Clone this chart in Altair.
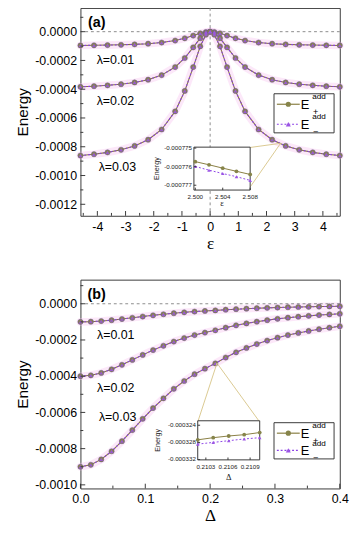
import altair as alt
import pandas as pd

# ---------------- panel (a): energy vs epsilon ----------------
eps = [-4.6, -4.12, -3.64, -3.16, -2.68, -2.2, -1.72, -1.24, -0.9, -0.6, -0.35, -0.15, 0.0,
       0.15, 0.35, 0.6, 0.9, 1.24, 1.72, 2.2, 2.68, 3.16, 3.64, 4.12, 4.6]
a_l01 = [-0.957e-4, -0.947e-4, -0.932e-4, -0.912e-4, -0.882e-4, -0.835e-4, -0.755e-4, -0.616e-4,
         -0.458e-4, -0.273e-4, -0.113e-4, -0.023e-4, 0.0,
         -0.023e-4, -0.113e-4, -0.273e-4, -0.458e-4, -0.616e-4, -0.755e-4, -0.835e-4,
         -0.882e-4, -0.912e-4, -0.932e-4, -0.947e-4, -0.957e-4]
a_l02 = [-3.83e-4, -3.79e-4, -3.73e-4, -3.65e-4, -3.53e-4, -3.34e-4, -3.02e-4, -2.46e-4,
         -1.83e-4, -1.09e-4, -0.45e-4, -0.09e-4, 0.0,
         -0.09e-4, -0.45e-4, -1.09e-4, -1.83e-4, -2.46e-4, -3.02e-4, -3.34e-4,
         -3.53e-4, -3.65e-4, -3.73e-4, -3.79e-4, -3.83e-4]
a_l03 = [-8.61e-4, -8.52e-4, -8.39e-4, -8.21e-4, -7.94e-4, -7.51e-4, -6.80e-4, -5.54e-4,
         -4.12e-4, -2.46e-4, -1.02e-4, -0.21e-4, 0.0,
         -0.21e-4, -1.02e-4, -2.46e-4, -4.12e-4, -5.54e-4, -6.80e-4, -7.51e-4,
         -7.94e-4, -8.21e-4, -8.39e-4, -8.52e-4, -8.61e-4]
a_labels = ["λ=0.01", "λ=0.02", "λ=0.03"]
a_label_x = [-3.36, -3.36, -3.29]
a_label_y = [-0.000196, -0.000482, -0.000939]
a_xticks = [-4, -3, -2, -1, 0, 1, 2, 3, 4]
a_xminor = [-4.5, -3.5, -2.5, -1.5, -0.5, 0.5, 1.5, 2.5, 3.5, 4.5]
a_yticks = [0.0, -0.0002, -0.0004, -0.0006, -0.0008, -0.0010, -0.0012]
a_yminor = [0.0001, -0.0001, -0.0003, -0.0005, -0.0007, -0.0009, -0.0011]
# inset (a)
ia_x = [2.500, 2.502, 2.504, 2.506, 2.508]
ia_ep = [-0.00077573, -0.00077590, -0.00077608, -0.00077625, -0.00077642]
ia_em = [-0.00077599, -0.00077619, -0.00077637, -0.00077654, -0.00077674]
ia_xticks = [2.500, 2.504, 2.508]
ia_xlabels = ["2.500", "2.504", "2.508"]
ia_yticks = [-0.000775, -0.000776, -0.000777]
ia_ylabels = ["-0.000775", "-0.000776", "-0.000777"]
a_conn_x0 = [2.5, 2.5]
a_conn_y0 = [-0.000776, -0.000776]
a_conn_x1 = [1.42, 1.42]
a_conn_y1 = [-0.000805, -0.001080]

# ---------------- panel (b): energy vs Delta ----------------
dlt = [0.0, 0.016, 0.032, 0.048, 0.064, 0.080, 0.096, 0.112, 0.128, 0.144, 0.160, 0.176, 0.192,
       0.208, 0.224, 0.240, 0.256, 0.272, 0.288, 0.304, 0.320, 0.336, 0.352, 0.368, 0.384, 0.400]
b_l01 = [-1.000e-4, -0.988e-4, -0.955e-4, -0.905e-4, -0.843e-4, -0.775e-4, -0.706e-4, -0.640e-4,
         -0.580e-4, -0.522e-4, -0.474e-4, -0.432e-4, -0.398e-4, -0.366e-4, -0.330e-4, -0.298e-4,
         -0.271e-4, -0.247e-4, -0.226e-4, -0.208e-4, -0.192e-4, -0.179e-4, -0.167e-4, -0.156e-4,
         -0.147e-4, -0.138e-4]
b_l02 = [-4.000e-4, -3.952e-4, -3.820e-4, -3.620e-4, -3.372e-4, -3.100e-4, -2.824e-4, -2.560e-4,
         -2.320e-4, -2.088e-4, -1.896e-4, -1.728e-4, -1.592e-4, -1.464e-4, -1.320e-4, -1.192e-4,
         -1.084e-4, -0.988e-4, -0.904e-4, -0.832e-4, -0.768e-4, -0.716e-4, -0.668e-4, -0.624e-4,
         -0.588e-4, -0.552e-4]
b_l03 = [-9.000e-4, -8.892e-4, -8.595e-4, -8.145e-4, -7.587e-4, -6.975e-4, -6.354e-4, -5.760e-4,
         -5.220e-4, -4.698e-4, -4.266e-4, -3.888e-4, -3.582e-4, -3.294e-4, -2.970e-4, -2.682e-4,
         -2.439e-4, -2.223e-4, -2.034e-4, -1.872e-4, -1.728e-4, -1.611e-4, -1.503e-4, -1.404e-4,
         -1.323e-4, -1.242e-4]
b_labels = ["λ=0.01", "λ=0.02", "λ=0.03"]
b_label_x = [0.0544, 0.0544, 0.0574]
b_label_y = [-0.000173, -0.000465, -0.000628]
b_xticks = [0.0, 0.1, 0.2, 0.3, 0.4]
b_xminor = [0.05, 0.15, 0.25, 0.35]
b_yticks = [0.0, -0.0002, -0.0004, -0.0006, -0.0008, -0.0010]
b_yminor = [0.0001, -0.0001, -0.0003, -0.0005, -0.0007, -0.0009]
# inset (b)
ib_x = [0.21019, 0.21040, 0.21061, 0.21082, 0.21103]
ib_ep = [-0.0003274, -0.0003269, -0.0003265, -0.0003262, -0.0003257]
ib_em = [-0.0003284, -0.0003280, -0.0003276, -0.0003272, -0.0003269]
ib_xticks = [0.2103, 0.2106, 0.2109]
ib_xlabels = ["0.2103", "0.2106", "0.2109"]
ib_yticks = [-0.000324, -0.000328, -0.000332]
ib_ylabels = ["-0.000324", "-0.000328", "-0.000332"]
b_conn_x0 = [0.2106, 0.2106]
b_conn_y0 = [-0.000328, -0.000328]
b_conn_x1 = [0.1809, 0.2765]
b_conn_y1 = [-0.000653, -0.000653]

# ---------------- styles ----------------
FONT = "Liberation Sans"
SERIF = "Liberation Serif"
OLIVE = "#857a3c"
OLIVE_FILL = "#86844a"
PURPLE = "#8a3fe6"
TRI = "#9b55e4"
HALO = "#f7c6f0"
CONN = "#d9c78e"
FRAME = "#333333"
ONE = pd.DataFrame({"a": [0]})


def fmt_expr(f):
    return "replace(format(datum.value, '" + f + "'), '\u2212', '-')"


def lin(field, d0, d1, r0, r1):
    # maps an inset-axis value onto the main axis (inset box placement)
    return "%r + (datum.%s - %r) / %r * %r" % (r0, field, d0, d1 - d0, r1 - r0)


def inset_layers(X, Y, W, H, mxd, myd, xdom, ydom, pxr, pyr, xvals, xlabs, yvals, ylabs, xtitle,
                 xs, ep, em, xl_off, xt_off, yt_off):
    bx0 = mxd[0] + pxr[0] / W * (mxd[1] - mxd[0])
    bx1 = mxd[0] + pxr[1] / W * (mxd[1] - mxd[0])
    by0 = myd[1] - pyr[0] / H * (myd[1] - myd[0])
    by1 = myd[1] - pyr[1] / H * (myd[1] - myd[0])
    fx = lambda f: lin(f, xdom[0], xdom[1], bx0, bx1)
    fy = lambda f: lin(f, ydom[0], ydom[1], by0, by1)
    bot, top, left = pyr[0], pyr[1], pxr[0]
    d = pd.DataFrame({"x": xs, "ep": ep, "em": em})
    base = alt.Chart(d).transform_calculate(mx=fx("x"), mep=fy("ep"), mem=fy("em"))
    L = []
    fr = pd.DataFrame({"x0": [bx0], "x1": [bx1], "y0": [by0], "y1": [by1]})
    L.append(alt.Chart(fr).mark_rect(fill="white", stroke=FRAME, strokeWidth=1).encode(
        x=X("x0"), x2="x1", y=Y("y0"), y2="y1"))
    L.append(base.mark_line(color=OLIVE, strokeWidth=1).encode(x=X("mx"), y=Y("mep")))
    L.append(base.mark_line(color=PURPLE, strokeWidth=1, strokeDash=[2, 2]).encode(x=X("mx"), y=Y("mem")))
    L.append(base.mark_point(shape="circle", filled=True, size=16, color=OLIVE_FILL, opacity=1).encode(
        x=X("mx"), y=Y("mep")))
    L.append(base.mark_point(shape="triangle-up", filled=True, size=14, color=TRI, opacity=1).encode(
        x=X("mx"), y=Y("mem")))
    xt = alt.Chart(pd.DataFrame({"v": xvals, "t": xlabs})).transform_calculate(m=fx("v"))
    yt = alt.Chart(pd.DataFrame({"v": yvals, "t": ylabs})).transform_calculate(m=fy("v"))
    L.append(xt.mark_rule(color=FRAME, strokeWidth=1).encode(
        x=X("m"), y=alt.value(bot), y2=alt.value(bot - 2.5)))
    L.append(yt.mark_rule(color=FRAME, strokeWidth=1).encode(
        y=Y("m"), x=alt.value(left), x2=alt.value(left + 2.5)))
    L.append(xt.mark_text(font=FONT, fontSize=6.5, color="#222", align="center",
                          baseline="middle").encode(x=X("m"), y=alt.value(bot + xl_off), text="t:N"))
    L.append(yt.mark_text(font=FONT, fontSize=6.5, color="#222", align="right",
                          baseline="middle").encode(y=Y("m"), x=alt.value(left - 2), text="t:N"))
    L.append(alt.Chart(ONE).mark_text(text=xtitle, font=SERIF, fontSize=9, color="#222", align="center",
                                      baseline="middle").encode(
        x=alt.value((pxr[0] + pxr[1]) / 2), y=alt.value(bot + xt_off)))
    L.append(alt.Chart(ONE).mark_text(text="Energy", font=FONT, fontSize=7.5, color="#222", align="center",
                                      baseline="middle", angle=270).encode(
        x=alt.value(left - yt_off), y=alt.value((bot + top) / 2)))
    return L


def make_panel(W, H, xdom, ydom, xmaj, xmin, ymaj, ymin, xfmt, xtitle, xs, series,
               lab_x, lab_y, lab_t, conn, tag, leg_y, vline, inset):
    xsc = alt.Scale(domain=xdom, nice=False, zero=False)
    ysc = alt.Scale(domain=ydom, nice=False, zero=False)
    xax = alt.Axis(values=xmaj, labelExpr=fmt_expr(xfmt), title=xtitle, ticks=False, tickSize=0,
                   domain=False, grid=False, labelFont=FONT, labelFontSize=13, labelColor="black",
                   labelPadding=5, labelFlush=False, labelOverlap=False, titleFont=SERIF,
                   titleFontSize=18, titleFontWeight="normal", titleColor="black", titlePadding=2)
    yax = alt.Axis(values=ymaj, labelExpr=fmt_expr(".4f"), title="Energy", ticks=False, tickSize=0,
                   domain=False, grid=False, labelFont=FONT, labelFontSize=13, labelColor="black",
                   labelPadding=4, labelFlush=False, labelOverlap=False, titleFont=FONT,
                   titleFontSize=16, titleFontWeight="normal", titleColor="black", titlePadding=4)

    def X(f):
        return alt.X(f, type="quantitative", scale=xsc, axis=xax)

    def Y(f):
        return alt.Y(f, type="quantitative", scale=ysc, axis=yax)

    rows = []
    for lam, ys in series:
        for xv, yv in zip(xs, ys):
            rows.append({"x": xv, "E": yv, "lam": lam})
    cur = pd.DataFrame(rows)

    layers = []
    layers.append(alt.Chart(cur).mark_line(color=HALO, strokeWidth=8, opacity=0.4, strokeCap="round").encode(
        x=X("x"), y=Y("E"), detail="lam:N"))
    z = pd.DataFrame({"z": [0.0]})
    layers.append(alt.Chart(z).mark_rule(color="#888888", strokeDash=[3, 3], strokeWidth=1).encode(y=Y("z")))
    if vline:
        layers.append(alt.Chart(z).mark_rule(color="#888888", strokeDash=[3, 3], strokeWidth=1).encode(x=X("z")))
    layers.append(alt.Chart(cur).mark_line(color=OLIVE, strokeWidth=1.1).encode(
        x=X("x"), y=Y("E"), detail="lam:N"))
    layers.append(alt.Chart(cur).mark_line(color=PURPLE, strokeWidth=1.1, strokeDash=[2, 2]).encode(
        x=X("x"), y=Y("E"), detail="lam:N"))
    layers.append(alt.Chart(cur).mark_point(shape="circle", filled=True, size=30, color=OLIVE_FILL,
                                            opacity=1, stroke="#6b4f9c", strokeWidth=0.5).encode(
        x=X("x"), y=Y("E")))
    layers.append(alt.Chart(cur).mark_point(shape="triangle-up", filled=True, size=16, color=TRI,
                                            opacity=0.85).encode(x=X("x"), y=Y("E")))
    cdf = pd.DataFrame({"x0": conn[0], "y0": conn[1], "x1": conn[2], "y1": conn[3]})
    layers.append(alt.Chart(cdf).mark_rule(color=CONN, strokeWidth=1).encode(
        x=X("x0"), y=Y("y0"), x2="x1", y2="y1"))
    ldf = pd.DataFrame({"x": lab_x, "y": lab_y, "t": lab_t})
    layers.append(alt.Chart(ldf).mark_text(font=FONT, fontSize=13, color="black", align="center",
                                           baseline="middle").encode(x=X("x"), y=Y("y"), text="t:N"))
    for vals, ln in ((xmaj, 5), (xmin, 3)):
        layers.append(alt.Chart(pd.DataFrame({"v": vals})).mark_rule(color=FRAME, strokeWidth=1).encode(
            x=X("v"), y=alt.value(H), y2=alt.value(H - ln)))
    for vals, ln in ((ymaj, 5), (ymin, 3)):
        layers.append(alt.Chart(pd.DataFrame({"v": vals})).mark_rule(color=FRAME, strokeWidth=1).encode(
            y=Y("v"), x=alt.value(0), x2=alt.value(ln)))
    layers.append(alt.Chart(ONE).mark_text(text=tag, font=FONT, fontSize=15, fontWeight="bold",
                                           color="black", align="center", baseline="middle").encode(
        x=alt.value(17), y=alt.value(15)))
    y1, y2 = leg_y
    layers.append(alt.Chart(ONE).mark_rect(fill="white", stroke=FRAME, strokeWidth=1).encode(
        x=alt.value(W - 69), x2=alt.value(W - 6), y=alt.value(y1 - 11), y2=alt.value(y2 + 9)))
    layers.append(alt.Chart(ONE).mark_rule(color=OLIVE, strokeWidth=1.2).encode(
        x=alt.value(W - 66), x2=alt.value(W - 42), y=alt.value(y1)))
    layers.append(alt.Chart(ONE).mark_rule(color=PURPLE, strokeWidth=1.2, strokeDash=[2, 2]).encode(
        x=alt.value(W - 66), x2=alt.value(W - 42), y=alt.value(y2)))
    layers.append(alt.Chart(ONE).mark_point(shape="circle", filled=True, size=30, color=OLIVE_FILL,
                                            opacity=1).encode(x=alt.value(W - 54), y=alt.value(y1)))
    layers.append(alt.Chart(ONE).mark_point(shape="triangle-up", filled=True, size=28, color=TRI,
                                            opacity=1).encode(x=alt.value(W - 54), y=alt.value(y2)))
    for yy, sub in ((y1, "+"), (y2, "\u2212")):
        layers.append(alt.Chart(ONE).mark_text(text="E", font=FONT, fontSize=13.5, color="black",
                                               align="left", baseline="middle").encode(
            x=alt.value(W - 41), y=alt.value(yy + 1)))
        layers.append(alt.Chart(ONE).mark_text(text="add", font=FONT, fontSize=8.5, color="black",
                                               align="left", baseline="middle").encode(
            x=alt.value(W - 29), y=alt.value(yy - 8)))
        layers.append(alt.Chart(ONE).mark_text(text=sub, font=FONT, fontSize=9.5, color="black",
                                               align="left", baseline="middle").encode(
            x=alt.value(W - 28), y=alt.value(yy + 8)))
    layers += inset_layers(X, Y, W, H, xdom, ydom, **inset)
    return alt.layer(*layers).properties(width=W, height=H)


WA, HA = 272, 218
WB, HB = 272, 219

pa = make_panel(
    WA, HA, [-4.6, 4.6], [-0.00128, 0.000165], a_xticks, a_xminor, a_yticks, a_yminor, "d", "ε",
    eps, [("0.01", a_l01), ("0.02", a_l02), ("0.03", a_l03)],
    a_label_x, a_label_y, a_labels, (a_conn_x0, a_conn_y0, a_conn_x1, a_conn_y1),
    "(a)", (101, 122), True,
    dict(xdom=[2.4998, 2.508], ydom=[-0.00077726, -0.00077495], pxr=[119, 178], pyr=[191, 146],
         xvals=ia_xticks, xlabs=ia_xlabels, yvals=ia_yticks, ylabs=ia_ylabels, xtitle="ε",
         xs=ia_x, ep=ia_ep, em=ia_em, xl_off=7, xt_off=14, yt_off=39))

pb = make_panel(
    WB, HB, [0.0, 0.4], [-0.00102, 0.000133], b_xticks, b_xminor, b_yticks, b_yminor, ".1f", "Δ",
    dlt, [("0.01", b_l01), ("0.02", b_l02), ("0.03", b_l03)],
    b_label_x, b_label_y, b_labels, (b_conn_x0, b_conn_y0, b_conn_x1, b_conn_y1),
    "(b)", (161, 179), False,
    dict(xdom=[0.21019, 0.21103], ydom=[-0.00033207, -0.00032296], pxr=[123, 188], pyr=[189, 148],
         xvals=ib_xticks, xlabs=ib_xlabels, yvals=ib_yticks, ylabs=ib_ylabels, xtitle="Δ",
         xs=ib_x, ep=ib_ep, em=ib_em, xl_off=8, xt_off=18, yt_off=42))

chart = alt.vconcat(pa, pb, spacing=27).properties(
    padding={"left": 7, "top": -14, "right": 0, "bottom": 0}, background="white").configure_view(
    stroke=FRAME, strokeWidth=1, fill="white")

chart.save("out.html", embed_options={"renderer": "svg", "actions": False})
